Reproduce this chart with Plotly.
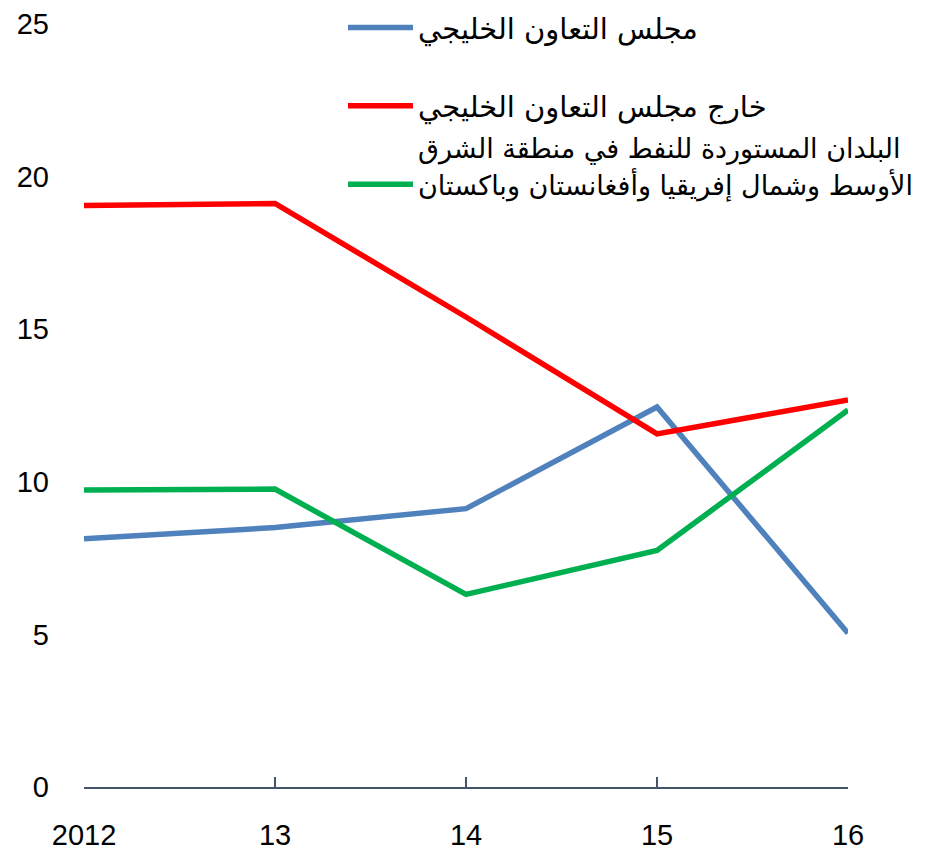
import plotly.graph_objects as go

years = [2012, 2013, 2014, 2015, 2016]
year_labels = ["2012", "13", "14", "15", "16"]

gcc = [8.13, 8.5, 9.12, 12.45, 5.04]
non_gcc = [19.05, 19.12, 15.4, 11.57, 12.68]
menap_importers = [9.73, 9.76, 6.31, 7.75, 12.35]

names = [
    "مجلس التعاون الخليجي",
    "<br>خارج مجلس التعاون الخليجي",
    '<span style="font-size:27px">البلدان المستوردة للنفط في منطقة الشرق</span>'
    '<br><span style="font-size:27px">الأوسط وشمال إفريقيا وأفغانستان وباكستان</span>',
]
colors = ["#4F81BD", "#FF0000", "#00B050"]
series = [gcc, non_gcc, menap_importers]

fig = go.Figure()
for name, vals, col in zip(names, series, colors):
    fig.add_trace(go.Scatter(
        x=years, y=vals, name=name, mode="lines",
        line=dict(color=col, width=5.5),
    ))

axis_font = dict(family="Liberation Sans, Arial, sans-serif", size=29, color="#000000")

# page has an 8px body margin: figure is 926x845 placed at (8, 8)
fig.update_layout(
    width=926, height=845,
    margin=dict(l=76, r=86, t=16, b=66, autoexpand=False),
    paper_bgcolor="white", plot_bgcolor="white",
    showlegend=True,
    legend=dict(
        x=0.339, xanchor="left",
        y=1.0288, yanchor="top",
        itemwidth=65, valign="bottom",
        font=dict(family="DejaVu Sans, sans-serif", size=29, color="#000000"),
        bgcolor="rgba(0,0,0,0)", tracegroupgap=0,
    ),
    xaxis=dict(
        range=[2012, 2016], tickvals=years, ticktext=year_labels,
        showgrid=False, zeroline=False, showline=True,
        linecolor="#44546A", linewidth=1.5,
        ticks="inside", ticklen=10, tickwidth=1.5, tickcolor="#44546A",
        tickfont=axis_font, ticklabelstandoff=21, ticklabeloverflow="allow",
    ),
    yaxis=dict(
        range=[0, 25], tickvals=[0, 5, 10, 15, 20, 25],
        showgrid=False, zeroline=False, showline=False, ticks="",
        tickfont=axis_font, ticklabelstandoff=34, ticklabeloverflow="allow",
    ),
)

fig.write_html("out.html")
